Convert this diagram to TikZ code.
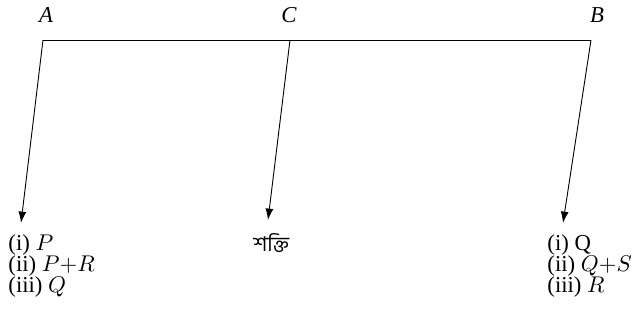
\documentclass[tikz,border=0pt]{standalone}
\usepackage{fontspec}
\setmainfont{Liberation Serif}
\newfontfamily\bngfont[Script=Bengali]{Hind Siliguri}
\usetikzlibrary{arrows.meta}

\begin{document}
\begin{tikzpicture}[x=0.44pt,y=-0.44pt]
    % beam AB with the three loads hanging from A, C and B

    \tikzset{
      beam/.style={thin},
      load/.style={thin, -{Latex[length=5pt,width=3.5pt]}},
      pt/.style={font=\itshape, inner sep=1pt},
      cases/.style={font=\fontsize{10}{9.3}\selectfont, align=left, anchor=north west, inner sep=0pt}
    }

    \useasboundingbox (0,0) rectangle (633,326);
    \clip (0,0) rectangle (633,326);

    % --- end labels
    \node[pt] (lA) at (46,15) {A};
    \node[pt] (lC) at (289,15) {C};
    \node[pt] (lB) at (597,15) {B};

    % --- the beam
    \coordinate (a) at (43,40);
    \coordinate (c) at (290,40);
    \coordinate (b) at (591,40);
    \draw[beam] (a) -- (b);

    % --- what hangs below
    \node[cases] (left) at (8,234) {(i) $P$\\(ii) $P{+}R$\\(iii) $Q$};
    \node[cases, font=\fontsize{9}{9.3}\selectfont] (mid) at (253,233) {\bngfont শক্তি};
    \node[cases] (right) at (547,234) {(i) Q\\(ii) $Q{+}S$\\(iii) $R$};

    % --- loads
    \coordinate (ta) at (21,223);
    \coordinate (tc) at (268,220);
    \coordinate (tb) at (563,223);
    \draw[load] (a) -- (ta);
    \draw[load] (c) -- (tc);
    \draw[load] (b) -- (tb);
\end{tikzpicture}
\end{document}
